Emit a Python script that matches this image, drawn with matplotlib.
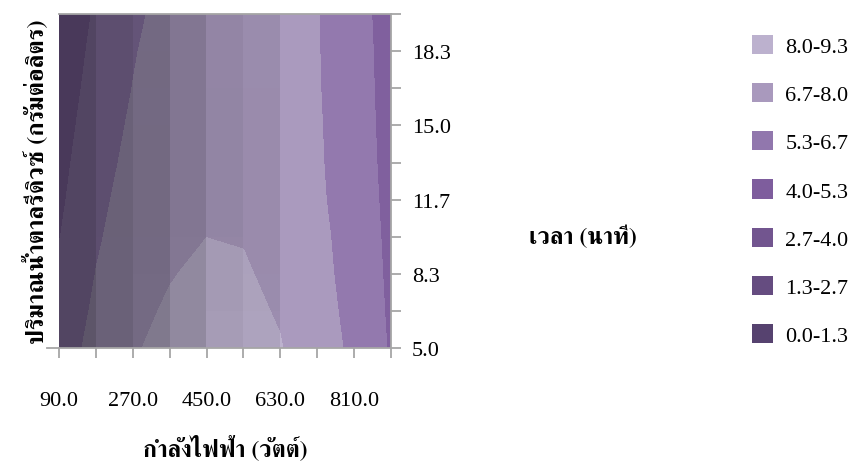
import numpy as np
import matplotlib
matplotlib.use("Agg")
import matplotlib.pyplot as plt
from matplotlib import font_manager, ft2font
from matplotlib.patches import Patch

# microwave power (W) and reducing sugar (g/L) on the grid
power = [90, 180, 270, 360, 450, 540, 630, 720, 810, 900]
sugar = [5.0, 6.67, 8.33, 10.0, 11.67, 13.33, 15.0, 16.67, 18.33, 20.0]

# time (min), one row per sugar level (bottom to top), one column per power
time_min = np.array([
    [6.13, 7.00, 7.83, 8.50, 8.90, 9.00, 8.05, 7.30, 6.40, 5.20],
    [5.90, 6.85, 7.55, 8.21, 8.65, 8.21, 7.92, 7.29, 6.20, 5.15],
    [5.64, 6.69, 7.30, 7.90, 8.35, 8.06, 7.85, 7.14, 6.10, 5.11],
    [5.28, 6.55, 7.15, 7.75, 7.99, 7.97, 7.85, 7.03, 6.05, 5.06],
    [5.08, 6.40, 7.08, 7.65, 7.93, 7.96, 7.90, 6.89, 6.00, 5.00],
    [4.92, 6.20, 6.98, 7.55, 7.85, 7.97, 7.95, 6.83, 5.95, 4.95],
    [4.76, 6.00, 6.85, 7.45, 7.75, 7.95, 7.98, 6.80, 5.90, 4.92],
    [4.62, 5.80, 6.69, 7.30, 7.65, 7.90, 7.95, 6.76, 5.85, 4.90],
    [4.46, 5.65, 6.58, 7.20, 7.55, 7.80, 7.90, 6.74, 5.80, 4.90],
    [4.19, 5.50, 6.45, 7.05, 7.40, 7.65, 7.75, 6.72, 5.78, 4.84],
])

levels = [0.0, 1.33, 2.67, 4.0, 5.33, 6.67, 8.0, 9.33]
band_labels = ['0.0-1.3', '1.3-2.7', '2.7-4.0', '4.0-5.3', '5.3-6.7', '6.7-8.0', '8.0-9.3']
band_colors = ['#56426f', '#654c80', '#72558f', '#7e5d9d', '#9177ad', '#a999bd', '#bcb1ce']

x_ticklabels = ['90.0', '', '270.0', '', '450.0', '', '630.0', '', '810.0', '']
y_ticklabels = ['5.0', '', '8.3', '', '11.7', '', '15.0', '', '18.3', '']

x_title = 'กำลังไฟฟ้า (วัตต์)'
y_title = 'ปริมาณน้ำตาลรีดิวซ์ (กรัมต่อลิตร)'
legend_title = 'เวลา (นาที)'


def find_thai_font():
    found = []
    for f in font_manager.fontManager.ttflist:
        try:
            if 0x0E01 in ft2font.FT2Font(f.fname).get_charmap():
                found.append(f.name)
        except Exception:
            pass
    for name in found:
        if 'Serif' in name:
            return name
    return found[0] if found else 'DejaVu Sans'


thai = find_thai_font()
num_font = 'Liberation Serif'
plt.rcParams['font.family'] = [num_font, thai]

fig = plt.figure(figsize=(8.51, 4.64), dpi=100)
ax = fig.add_axes([0.0693, 0.2478, 0.3901, 0.7198])

ax.contourf(power, sugar, time_min, levels=levels, colors=band_colors, zorder=1)

# flat lighting per column of facets: columns rising to the right
# turn dark grey, falling ones stay lit; a little row variation on top
dx = np.diff(time_min, axis=1)
sx = 0.5 * (dx[:-1] + dx[1:])
dy = np.diff(time_min, axis=0)
sy = 0.5 * (dy[:, :-1] + dy[:, 1:])
col_slope = np.broadcast_to(sx.mean(axis=0), sx.shape)
shade = np.clip(0.88 - 0.32 * col_slope - 0.03 * sy, 0.56, 1.02)
light = np.zeros(shade.shape + (4,))
dark = shade < 1
light[dark, :3] = [0.10, 0.10, 0.12]
light[~dark, :3] = 1.0
light[..., 3] = np.where(dark, np.clip((1 - shade) * 1.2, 0, 1), shade - 1)
ax.imshow(light, origin='lower', extent=(power[0], power[-1], sugar[0], sugar[-1]),
          aspect='auto', interpolation='nearest', zorder=2)

ax.set_xlim(power[0], power[-1])
ax.set_ylim(sugar[0], sugar[-1])

grey = '#a6a6a6'
ax.set_xticks(power)
ax.set_xticklabels(x_ticklabels)
ax.set_yticks(sugar)
ax.set_yticklabels(y_ticklabels)
ax.yaxis.tick_right()
ax.tick_params(axis='x', direction='out', length=7, width=1.3, color=grey, pad=24, labelsize=16)
ax.tick_params(axis='y', direction='out', length=7, width=1.3, color=grey, pad=8, labelsize=16)
for side in ['top', 'right', 'bottom']:
    ax.spines[side].set_color(grey)
    ax.spines[side].set_linewidth(1.3)
ax.spines['left'].set_visible(False)
ax.plot([-0.035, 0], [0, 0], transform=ax.transAxes, clip_on=False, color=grey, lw=1.3)

ax.set_xlabel(x_title, fontsize=17, fontweight='bold', family=[thai, num_font], labelpad=17)
ax.yaxis.set_label_position('left')
ax.set_ylabel(y_title, fontsize=17.5, fontweight='bold', family=[thai, num_font], labelpad=8)

handles = [Patch(facecolor=c, edgecolor='none') for c in band_colors[::-1]]
fig.legend(handles, band_labels[::-1], loc='upper left', bbox_to_anchor=(0.8837, 0.923),
           frameon=False, fontsize=16, handlelength=0.95, handleheight=0.95,
           handletextpad=0.55, labelspacing=1.17, borderpad=0, borderaxespad=0)
fig.text(0.685, 0.489, legend_title, fontsize=17, fontweight='bold',
         family=[thai, num_font], ha='center', va='center')

fig.savefig('out.png', dpi=100)
